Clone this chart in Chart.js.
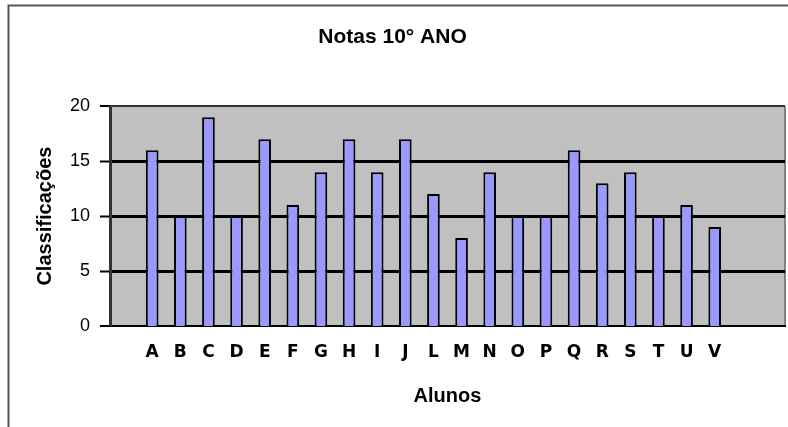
<!DOCTYPE html>
<html>
<head>
<meta charset="utf-8">
<script src="https://cdn.jsdelivr.net/npm/chart.js@4"></script>
<style>
  html, body { margin: 0; padding: 0; background: #ffffff; }
  #wrap { width: 788px; height: 427px; position: relative; }
</style>
</head>
<body>
<div id="wrap"><canvas id="c" width="788" height="427"></canvas></div>
<script>
const titulo = 'Notas 10° ANO';
const tituloY = 'Classificações';
const tituloX = 'Alunos';
const alunos = ['A','B','C','D','E','F','G','H','I','J','L','M','N','O','P','Q','R','S','T','U','V'];
const notas  = [16, 10, 19, 10, 17, 11, 14, 17, 14, 17, 12, 8, 14, 10, 10, 16, 13, 14, 10, 11, 9];
const yTicks = [0, 5, 10, 15, 20];

// category axis has one empty slot before and two after the students
const labels = [''].concat(alunos, ['', '']);
const valores = [null].concat(notas, [null, null]);

const frame = {
  id: 'frame',
  beforeDraw(chart) {
    const {ctx, chartArea: a} = chart;
    ctx.save();
    ctx.fillStyle = '#ffffff';
    ctx.fillRect(0, 0, chart.width, chart.height);
    ctx.fillStyle = '#c0c0c0';
    ctx.fillRect(a.left, a.top, a.right - a.left, a.bottom - a.top);
    ctx.strokeStyle = '#808080';
    ctx.lineWidth = 2;
    ctx.beginPath();
    ctx.moveTo(a.right, a.top);
    ctx.lineTo(a.right, a.bottom);
    ctx.stroke();
    ctx.strokeStyle = '#555555';
    ctx.lineWidth = 2;
    ctx.beginPath();
    ctx.moveTo(8.5, chart.height);
    ctx.lineTo(8.5, 5.5);
    ctx.lineTo(chart.width, 5.5);
    ctx.stroke();
    ctx.restore();
  }
};

new Chart(document.getElementById('c'), {
  type: 'bar',
  data: {
    labels: labels,
    datasets: [{
      data: valores,
      backgroundColor: '#9999ff',
      borderColor: '#000000',
      borderWidth: 2,
      categoryPercentage: 1,
      barPercentage: 0.45
    }]
  },
  options: {
    responsive: false,
    animation: false,
    layout: { padding: { left: 0, right: 3, top: 0, bottom: 0 } },
    plugins: {
      legend: { display: false },
      tooltip: { enabled: false },
      title: {
        display: true,
        text: titulo,
        color: '#000000',
        font: { family: 'Liberation Sans, Arial, sans-serif', size: 21, weight: 'bold' },
        padding: { top: 25, bottom: 56 }
      }
    },
    scales: {
      x: {
        afterFit(s) { s.height = 101; },
        grid: { display: true, drawOnChartArea: false, drawTicks: false },
        border: { display: true, color: '#000000', width: 2 },
        ticks: {
          color: '#000000',
          padding: 16,
          maxRotation: 0,
          autoSkip: false,
          font: { family: 'DejaVu Sans, sans-serif', size: 17, weight: 'bold' }
        },
        title: {
          display: true,
          text: tituloX,
          color: '#000000',
          padding: 19,
          font: { family: 'Liberation Sans, Arial, sans-serif', size: 20, weight: 'bold' }
        }
      },
      y: {
        min: 0,
        max: 20,
        afterFit(s) { s.width = 110; },
        afterBuildTicks(s) { s.ticks = yTicks.map(v => ({ value: v })); },
        grid: {
          color: ctx => (ctx.tick && ctx.tick.value === 20) ? '#333333' : '#000000',
          lineWidth: ctx => (ctx.tick && ctx.tick.value === 0) ? 0 : ((ctx.tick && ctx.tick.value === 20) ? 2 : 3),
          tickColor: '#000000',
          tickWidth: 2,
          tickLength: 10,
          drawTicks: true
        },
        border: { display: true, color: '#333333', width: 3 },
        ticks: {
          color: '#000000',
          padding: 10,
          font: { family: 'Liberation Sans, Arial, sans-serif', size: 18 }
        },
        title: {
          display: true,
          text: tituloY,
          color: '#000000',
          padding: 33,
          font: { family: 'Liberation Sans, Arial, sans-serif', size: 20, weight: 'bold' }
        }
      }
    }
  },
  plugins: [frame]
});
</script>
</body>
</html>
